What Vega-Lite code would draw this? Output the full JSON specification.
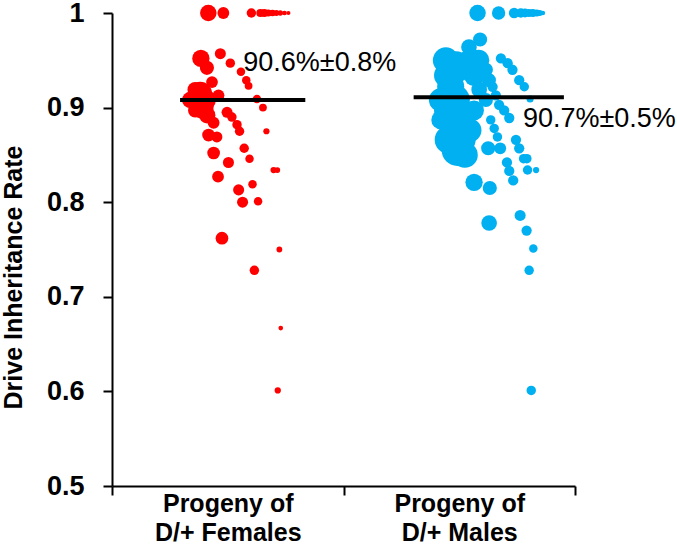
{
"$schema": "https://vega.github.io/schema/vega-lite/v6.json",
"width": 463, "height": 473,
"autosize": {"type": "none"},
"padding": {"left": 112, "top": 13, "right": 102, "bottom": 59},
"config": {"view": {"stroke": null}, "font": "Liberation Sans"},
"data": {"values": [
{"kind":"pt","group":"F","x":0.416,"y":1.0,"progeny":49},
{"kind":"pt","group":"F","x":0.481,"y":1.0,"progeny":25},
{"kind":"pt","group":"F","x":0.602,"y":1.0,"progeny":16},
{"kind":"pt","group":"F","x":0.641,"y":1.0,"progeny":12},
{"kind":"pt","group":"F","x":0.658,"y":1.0,"progeny":11},
{"kind":"pt","group":"F","x":0.675,"y":1.0,"progeny":9},
{"kind":"pt","group":"F","x":0.693,"y":1.0,"progeny":8},
{"kind":"pt","group":"F","x":0.710,"y":1.0,"progeny":6},
{"kind":"pt","group":"F","x":0.727,"y":1.0,"progeny":5},
{"kind":"pt","group":"F","x":0.745,"y":1.0,"progeny":4},
{"kind":"pt","group":"F","x":0.762,"y":1.0,"progeny":3},
{"kind":"pt","group":"F","x":0.384,"y":0.952,"progeny":54},
{"kind":"pt","group":"F","x":0.410,"y":0.942,"progeny":36},
{"kind":"pt","group":"F","x":0.468,"y":0.957,"progeny":22},
{"kind":"pt","group":"F","x":0.511,"y":0.947,"progeny":16},
{"kind":"pt","group":"F","x":0.557,"y":0.938,"progeny":13},
{"kind":"pt","group":"F","x":0.580,"y":0.929,"progeny":13},
{"kind":"pt","group":"F","x":0.590,"y":0.923,"progeny":11},
{"kind":"pt","group":"F","x":0.381,"y":0.915,"progeny":100},
{"kind":"pt","group":"F","x":0.432,"y":0.927,"progeny":25},
{"kind":"pt","group":"F","x":0.460,"y":0.913,"progeny":25},
{"kind":"pt","group":"F","x":0.359,"y":0.919,"progeny":42},
{"kind":"pt","group":"F","x":0.388,"y":0.901,"progeny":100},
{"kind":"pt","group":"F","x":0.403,"y":0.908,"progeny":81},
{"kind":"pt","group":"F","x":0.338,"y":0.908,"progeny":49},
{"kind":"pt","group":"F","x":0.411,"y":0.892,"progeny":49},
{"kind":"pt","group":"F","x":0.359,"y":0.897,"progeny":36},
{"kind":"pt","group":"F","x":0.626,"y":0.909,"progeny":13},
{"kind":"pt","group":"F","x":0.652,"y":0.900,"progeny":11},
{"kind":"pt","group":"F","x":0.497,"y":0.895,"progeny":22},
{"kind":"pt","group":"F","x":0.439,"y":0.884,"progeny":25},
{"kind":"pt","group":"F","x":0.518,"y":0.890,"progeny":16},
{"kind":"pt","group":"F","x":0.540,"y":0.882,"progeny":16},
{"kind":"pt","group":"F","x":0.551,"y":0.875,"progeny":16},
{"kind":"pt","group":"F","x":0.667,"y":0.875,"progeny":7},
{"kind":"pt","group":"F","x":0.417,"y":0.871,"progeny":29},
{"kind":"pt","group":"F","x":0.453,"y":0.869,"progeny":22},
{"kind":"pt","group":"F","x":0.571,"y":0.857,"progeny":16},
{"kind":"pt","group":"F","x":0.439,"y":0.852,"progeny":29},
{"kind":"pt","group":"F","x":0.594,"y":0.846,"progeny":13},
{"kind":"pt","group":"F","x":0.503,"y":0.842,"progeny":22},
{"kind":"pt","group":"F","x":0.698,"y":0.834,"progeny":7},
{"kind":"pt","group":"F","x":0.714,"y":0.834,"progeny":6},
{"kind":"pt","group":"F","x":0.458,"y":0.827,"progeny":25},
{"kind":"pt","group":"F","x":0.607,"y":0.819,"progeny":13},
{"kind":"pt","group":"F","x":0.547,"y":0.813,"progeny":22},
{"kind":"pt","group":"F","x":0.564,"y":0.800,"progeny":22},
{"kind":"pt","group":"F","x":0.631,"y":0.801,"progeny":13},
{"kind":"pt","group":"F","x":0.475,"y":0.762,"progeny":29},
{"kind":"pt","group":"F","x":0.723,"y":0.750,"progeny":6},
{"kind":"pt","group":"F","x":0.615,"y":0.728,"progeny":16},
{"kind":"pt","group":"F","x":0.729,"y":0.667,"progeny":4},
{"kind":"pt","group":"F","x":0.716,"y":0.601,"progeny":7},
{"kind":"pt","group":"M","x":1.579,"y":1.0,"progeny":49},
{"kind":"pt","group":"M","x":1.670,"y":1.0,"progeny":32},
{"kind":"pt","group":"M","x":1.737,"y":1.0,"progeny":20},
{"kind":"pt","group":"M","x":1.766,"y":1.0,"progeny":16},
{"kind":"pt","group":"M","x":1.784,"y":1.0,"progeny":14},
{"kind":"pt","group":"M","x":1.801,"y":1.0,"progeny":12},
{"kind":"pt","group":"M","x":1.818,"y":1.0,"progeny":11},
{"kind":"pt","group":"M","x":1.835,"y":1.0,"progeny":9},
{"kind":"pt","group":"M","x":1.848,"y":1.0,"progeny":6},
{"kind":"pt","group":"M","x":1.861,"y":1.0,"progeny":4},
{"kind":"pt","group":"M","x":1.590,"y":0.972,"progeny":36},
{"kind":"pt","group":"M","x":1.542,"y":0.964,"progeny":44},
{"kind":"pt","group":"M","x":1.485,"y":0.943,"progeny":178},
{"kind":"pt","group":"M","x":1.550,"y":0.950,"progeny":100},
{"kind":"pt","group":"M","x":1.463,"y":0.922,"progeny":132},
{"kind":"pt","group":"M","x":1.478,"y":0.908,"progeny":178},
{"kind":"pt","group":"M","x":1.492,"y":0.890,"progeny":178},
{"kind":"pt","group":"M","x":1.485,"y":0.873,"progeny":178},
{"kind":"pt","group":"M","x":1.492,"y":0.855,"progeny":178},
{"kind":"pt","group":"M","x":1.442,"y":0.934,"progeny":100},
{"kind":"pt","group":"M","x":1.442,"y":0.897,"progeny":100},
{"kind":"pt","group":"M","x":1.515,"y":0.866,"progeny":121},
{"kind":"pt","group":"M","x":1.420,"y":0.887,"progeny":64},
{"kind":"pt","group":"M","x":1.442,"y":0.950,"progeny":121},
{"kind":"pt","group":"M","x":1.455,"y":0.866,"progeny":144},
{"kind":"pt","group":"M","x":1.524,"y":0.850,"progeny":121},
{"kind":"pt","group":"M","x":1.545,"y":0.876,"progeny":100},
{"kind":"pt","group":"M","x":1.584,"y":0.950,"progeny":81},
{"kind":"pt","group":"M","x":1.420,"y":0.908,"progeny":100},
{"kind":"pt","group":"M","x":1.564,"y":0.933,"progeny":70},
{"kind":"pt","group":"M","x":1.586,"y":0.919,"progeny":44},
{"kind":"pt","group":"M","x":1.564,"y":0.897,"progeny":70},
{"kind":"pt","group":"M","x":1.615,"y":0.940,"progeny":36},
{"kind":"pt","group":"M","x":1.628,"y":0.929,"progeny":36},
{"kind":"pt","group":"M","x":1.615,"y":0.908,"progeny":36},
{"kind":"pt","group":"M","x":1.680,"y":0.952,"progeny":19},
{"kind":"pt","group":"M","x":1.709,"y":0.947,"progeny":19},
{"kind":"pt","group":"M","x":1.730,"y":0.940,"progeny":19},
{"kind":"pt","group":"M","x":1.759,"y":0.929,"progeny":19},
{"kind":"pt","group":"M","x":1.781,"y":0.922,"progeny":16},
{"kind":"pt","group":"M","x":1.644,"y":0.922,"progeny":19},
{"kind":"pt","group":"M","x":1.658,"y":0.913,"progeny":19},
{"kind":"pt","group":"M","x":1.806,"y":0.909,"progeny":9},
{"kind":"pt","group":"M","x":1.672,"y":0.903,"progeny":19},
{"kind":"pt","group":"M","x":1.694,"y":0.897,"progeny":19},
{"kind":"pt","group":"M","x":1.716,"y":0.889,"progeny":19},
{"kind":"pt","group":"M","x":1.636,"y":0.887,"progeny":16},
{"kind":"pt","group":"M","x":1.651,"y":0.878,"progeny":16},
{"kind":"pt","group":"M","x":1.665,"y":0.869,"progeny":16},
{"kind":"pt","group":"M","x":1.745,"y":0.866,"progeny":19},
{"kind":"pt","group":"M","x":1.625,"y":0.857,"progeny":36},
{"kind":"pt","group":"M","x":1.677,"y":0.857,"progeny":25},
{"kind":"pt","group":"M","x":1.759,"y":0.857,"progeny":19},
{"kind":"pt","group":"M","x":1.778,"y":0.846,"progeny":16},
{"kind":"pt","group":"M","x":1.792,"y":0.846,"progeny":16},
{"kind":"pt","group":"M","x":1.706,"y":0.842,"progeny":19},
{"kind":"pt","group":"M","x":1.716,"y":0.833,"progeny":19},
{"kind":"pt","group":"M","x":1.795,"y":0.834,"progeny":16},
{"kind":"pt","group":"M","x":1.832,"y":0.834,"progeny":7},
{"kind":"pt","group":"M","x":1.733,"y":0.823,"progeny":19},
{"kind":"pt","group":"M","x":1.564,"y":0.821,"progeny":54},
{"kind":"pt","group":"M","x":1.632,"y":0.815,"progeny":36},
{"kind":"pt","group":"M","x":1.629,"y":0.778,"progeny":44},
{"kind":"pt","group":"M","x":1.763,"y":0.786,"progeny":22},
{"kind":"pt","group":"M","x":1.791,"y":0.770,"progeny":19},
{"kind":"pt","group":"M","x":1.820,"y":0.751,"progeny":13},
{"kind":"pt","group":"M","x":1.802,"y":0.728,"progeny":16},
{"kind":"pt","group":"M","x":1.811,"y":0.601,"progeny":16},
{"kind":"mean","group":"F","x":0.294,"x2":0.835,"y":0.908},
{"kind":"mean","group":"M","x":1.303,"x2":1.952,"y":0.911},
{"kind":"lab","group":"F","x":0.567,"y":0.939,"label":"90.6%±0.8%"},
{"kind":"lab","group":"M","x":1.775,"y":0.879,"label":"90.7%±0.5%"}
]},
"encoding": {
  "x": {"field": "x", "type": "quantitative",
        "scale": {"domain": [0, 2], "nice": false, "zero": false},
        "axis": {"values": [0, 0.5, 1, 1.5, 2], "title": null, "grid": false,
                 "domainColor": "black", "domainWidth": 2,
                 "tickColor": "black", "tickWidth": 2, "tickSize": 9,
                 "tickOpacity": {"condition": {"test": "datum.value % 1 === 0", "value": 1}, "value": 0},
                 "labelExpr": "datum.value === 0.5 ? ['Progeny of', 'D/+ Females'] : datum.value === 1.5 ? ['Progeny of', 'D/+ Males'] : ''",
                 "labelFont": "Liberation Sans", "labelFontWeight": "bold", "labelFontSize": 25,
                 "labelColor": "black", "labelLineHeight": 29, "labelPadding": -4,
                 "labelFlush": false, "labelOverlap": false, "labelBound": false}},
  "y": {"field": "y", "type": "quantitative",
        "scale": {"domain": [0.5, 1], "nice": false, "zero": false},
        "axis": {"values": [0.5, 0.6, 0.7, 0.8, 0.9, 1], "title": "Drive Inheritance Rate",
                 "titleFont": "Liberation Sans", "titleFontSize": 25, "titleFontWeight": "bold",
                 "titleColor": "black", "titlePadding": 20, "titleY": 264,
                 "labelExpr": "datum.value === 1 ? '1' : format(datum.value, '.1f')",
                 "labelFont": "Liberation Sans", "labelFontSize": 27, "labelFontWeight": "bold",
                 "labelColor": "black", "labelPadding": 19,
                 "tickSize": 9, "tickWidth": 2, "tickColor": "black",
                 "domainColor": "black", "domainWidth": 2, "grid": false,
                 "labelFlush": false, "labelOverlap": false}}
},
"layer": [
  {"transform": [{"filter": "datum.kind === 'pt'"}],
   "mark": {"type": "circle", "opacity": 1},
   "encoding": {
     "color": {"field": "group", "type": "nominal", "scale": {"domain": ["F", "M"], "range": ["#FF0000", "#00B0F0"]}, "legend": null},
     "size": {"field": "progeny", "type": "quantitative", "scale": {"type": "linear", "domain": [0, 180], "range": [0, 1000], "zero": true}, "legend": null}
   }},
  {"transform": [{"filter": "datum.kind === 'mean'"}],
   "mark": {"type": "rule", "strokeWidth": 4, "color": "black"},
   "encoding": {"x2": {"field": "x2"}}},
  {"transform": [{"filter": "datum.kind === 'lab'"}],
   "mark": {"type": "text", "align": "left", "baseline": "alphabetic", "fontSize": 27, "font": "Liberation Sans", "color": "black"},
   "encoding": {"text": {"field": "label", "type": "nominal"}}}
]
}
